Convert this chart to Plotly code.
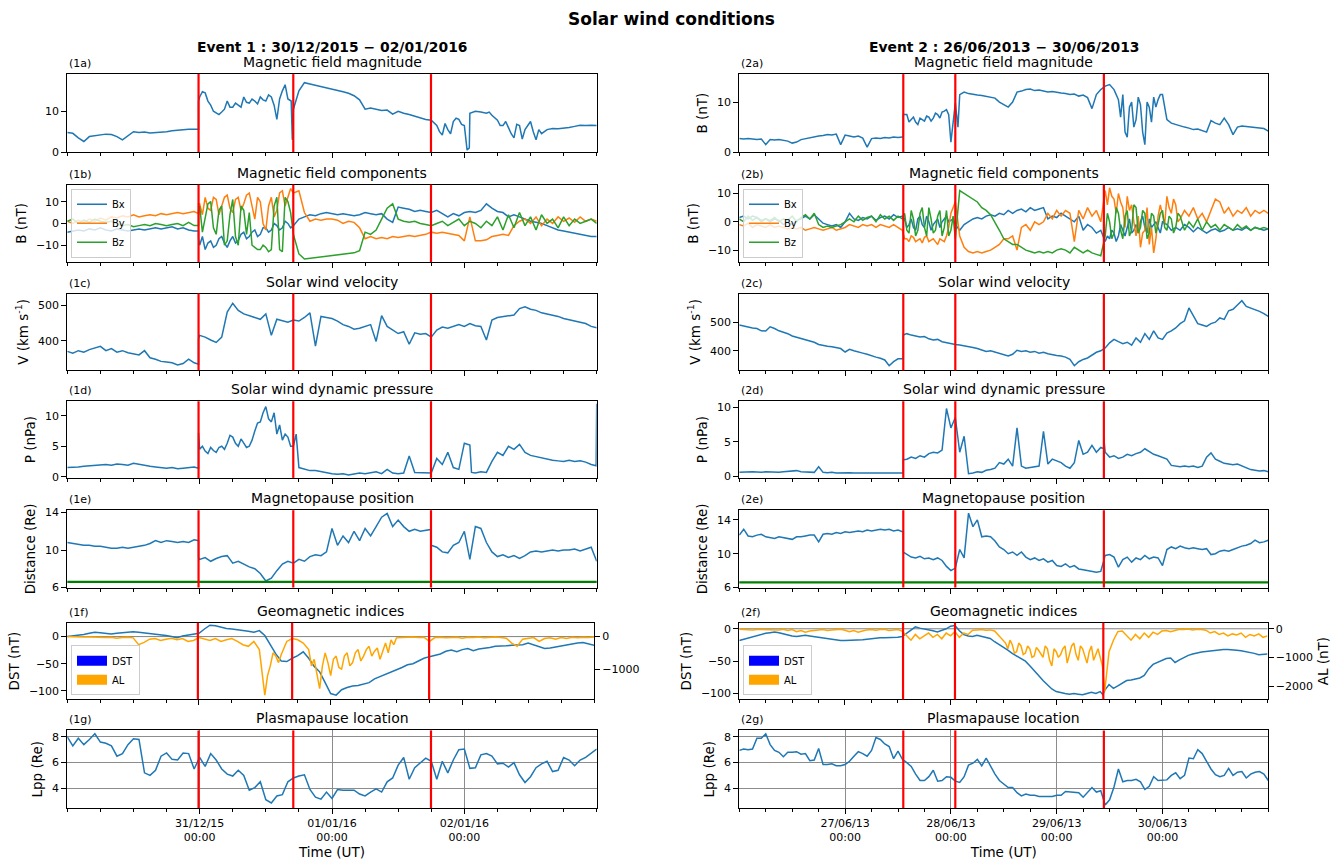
import pandas as pd
import plotly.graph_objects as go

W, H = 1343, 868

# ============================ DATA ============================
E1_START, E1_END = "2015-12-30 00:00", "2016-01-03 00:00"
E2_START, E2_END = "2013-06-26 00:00", "2013-07-01 00:00"

e1_tickvals = ["2015-12-31", "2016-01-01", "2016-01-02"]
e1_ticktext = ["31/12/15<br>00:00", "01/01/16<br>00:00", "02/01/16<br>00:00"]
e2_tickvals = ["2013-06-27", "2013-06-28", "2013-06-29", "2013-06-30"]
e2_ticktext = ["27/06/13<br>00:00", "28/06/13<br>00:00", "29/06/13<br>00:00", "30/06/13<br>00:00"]

# event boundaries (hours after start)
e1_boundaries_h = [23.8, 40.98, 65.95]
e2_boundaries_h = [37.2, 49.0, 82.7]

geosync_re = 6.6

# ---------- Event 1 (hourly values from 30/12/2015 00:00, plus extra (hour, value) samples) ----------
e1_B = [4.8, 4.6, 3.5, 2.6, 3.8, 4.0, 4.2, 4.4, 4.3, 3.8,
        3.0, 4.0, 5.0, 4.8, 4.9, 4.7, 4.8, 4.8, 5.0, 5.2,
        5.4, 5.5, 5.6, 5.5, 13.5, 14.5, 11.5, 9.5, 9.8, 12.5,
        11.0, 11.5, 13.5, 12.0, 12.5, 13.5, 12.5, 13.5, 8.0, 15.0,
        13.0, 10.5, 15.0, 17.0, 16.7, 16.4, 16.1, 15.8, 15.5, 15.1,
        14.8, 14.4, 13.8, 12.8, 10.5, 10.8, 10.5, 10.2, 10.3, 9.3,
        10.0, 9.5, 9.2, 8.8, 8.5, 8.0, 7.8, 6.5, 4.2, 5.5,
        7.5, 8.0, 6.5, 9.5, 10.0, 9.8, 9.5, 9.0, 7.8, 6.5,
        6.0, 3.5, 6.5, 5.5, 7.5, 3.0, 4.5, 5.5, 5.8, 5.7,
        5.8, 6.0, 6.3, 6.6, 6.5, 6.6, 6.5]
e1_B_extra = [(23.8, 5.6), (23.8, 12.5), (24.5, 14.8), (25.5, 12.5), (26.5, 10.0), (27.5, 9.2),
              (28.5, 10.5), (29.5, 11.0), (30.5, 12.0), (31.5, 11.0), (32.5, 12.2), (33.5, 13.0),
              (34.5, 11.8), (35.5, 12.8), (36.5, 14.0), (37.5, 11.5), (38.5, 13.0), (39.5, 16.5),
              (40.6, 12.5), (40.8, 3.0), (67.5, 5.0), (68.5, 7.0), (69.5, 4.5), (70.5, 8.3),
              (71.5, 6.8), (72.5, 0.5), (72.9, 1.0), (76.5, 9.8), (78.5, 6.5), (79.5, 7.5),
              (80.5, 4.5), (81.5, 6.8), (82.5, 3.2), (83.5, 6.5), (84.5, 5.0), (85.5, 5.5)]

e1_Bx = [-4, -3.5, -3, -3.5, -2.5, -3, -2, -3, -3.5, -2.5,
         -3, -3.5, -3, -2.5, -3, -2.5, -2, -2.5, -2, -1.5,
         -2.5, -2, -3, -3.5, -10, -12, -8, -10, -6, -11,
         -6, -8, -4, -6, -3, -5, -2, -3, -1, -2,
         0, -1, 2, 3, 4, 3.5, 4.5, 5, 4.5, 4,
         4.5, 4, 3.5, 4, 5, 4.5, 4, 4.5, 2, 0.5,
         7.5, 7, 6.5, 5.5, 6, 5.5, 5, 6, 4.5, 3,
         4.5, 3.5, 5, 5.5, 5, 6, 9, 7, 5.5, 5,
         3, 4, 3, 2, 1, 0.5, 0, -1, -2, -3,
         -3.5, -4, -4.5, -5, -5.5, -6, -6]
e1_Bx_extra = [(23.8, -3.5), (23.8, -7), (24.5, -6), (25.5, -9), (26.5, -11), (27.5, -7), (28.5, -9),
               (29.5, -8), (30.5, -9), (31.5, -5), (32.5, -7), (33.5, -4), (34.5, -6), (35.5, -2),
               (36.5, -4), (37.5, 0), (38.5, -3), (39.5, 1), (40.5, -2)]
e1_By = [1, 0, 1.5, 0.5, 2, 1, 2.5, 1.5, 3, 2.5,
         3.5, 3, 4, 3, 3.5, 4, 3.5, 4.5, 4, 4.5,
         5, 4.5, 5, 5.5, 9, 12, 6, 11, 8, 13,
         5, 12, 9, 14, 2, 10, -3, 12, 6, 15,
         12, 14, 15, 5, 1, 2, 1.5, 2, 2, 1.5,
         0, 1, 0.5, -2, -7, -6, -7, -6.5, -7, -6,
         -6.5, -6, -5.5, -6, -5.5, -5, -4, -4.5, -4, -4.5,
         -5, -5.5, -8, 3, -8, -8, -7.5, -6, -5.5, -5,
         -5.5, -1, 1, 2, 0, 3, -1, 2, 0, 3,
         1, 2.5, 0.5, 3, 1, 2, 1]
e1_By_extra = [(23.8, 4.5), (23.8, 9), (24.5, 4), (25.5, 7), (26.5, 12), (27.5, 4), (28.5, 12),
               (29.5, 7), (30.5, 11), (31.5, 6), (32.5, 13), (33.5, 8), (34.5, 12), (35.5, 0),
               (36.5, 8), (37.5, 3), (38.5, 14), (39.5, 8), (40.5, 16)]
e1_Bz = [1, 2, 0, 1.5, 0.5, 2, 1, 0.5, 1, 0,
         -1, -0.5, -1.5, -1, -0.5, -1, 0, -0.5, -1, -0.5,
         0, -1, 0.5, -1, 8, 3, 10, -5, 8, -8,
         11, -10, 6, 5, -11, -12, -11, -12, 12, -13,
         10, -5, -14, -16.3, -16, -15.7, -15.4, -15.1, -14.8, -14.5,
         -14.2, -13.9, -13.5, -12.5, -4, -5, -3, 2, 7, 9,
         2, 1, 0.5, 1, 0, -0.5, -1, 0, 1, -1,
         0.5, 2, -1, 1, 0, -2, 1, -1, 3, -3,
         4, -2, 5, -1, 3, -3, 4, 0, 2, -2,
         3, -1, 2, 0, 1, 2, 0]
e1_Bz_extra = [(23.8, -1), (23.8, 6), (24.5, -4), (25.5, 9), (26.5, -2), (27.5, 6), (28.5, -10),
               (29.5, 4), (30.5, -6), (31.5, 8), (32.5, -5), (33.5, -10), (34.5, -12), (35.5, -10),
               (36.5, -13), (37.5, 8), (38.5, -12), (39.5, 12), (40.5, 5)]

e1_V = [370, 365, 372, 368, 375, 380, 384, 372, 378, 368,
        372, 366, 362, 360, 372, 352, 348, 342, 340, 338,
        332, 336, 348, 338, 415, 410, 402, 395, 410, 480,
        505, 485, 475, 470, 465, 460, 475, 415, 460, 455,
        452, 458, 455, 465, 478, 385, 468, 465, 462, 455,
        445, 440, 432, 435, 440, 445, 398, 470, 440, 430,
        420, 425, 390, 422, 418, 420, 410, 430, 438, 435,
        440, 445, 440, 448, 442, 440, 402, 458, 465, 468,
        470, 472, 490, 495, 488, 485, 478, 475, 470, 468,
        462, 458, 455, 450, 448, 440, 436]
e1_V_extra = [(23.8, 334), (23.8, 405)]

e1_P = [1.5, 1.5, 1.6, 1.7, 1.8, 1.8, 1.9, 2.0, 1.9, 2.1,
        2.0, 1.9, 2.2, 2.0, 1.8, 1.7, 1.6, 1.5, 1.4, 1.5,
        1.3, 1.4, 1.5, 1.6, 4.5, 4.2, 4.8, 4.0, 5.0, 5.5,
        6.5, 5.0, 5.5, 5.0, 7.5, 9.0, 11.5, 9.0, 7.0, 6.0,
        6.5, 5.0, 1.5, 1.2, 1.0, 1.0, 0.8, 0.6, 0.5, 0.4,
        0.5, 0.3, 0.4, 0.6, 0.5, 0.7, 0.8, 0.5, 1.2, 0.6,
        0.5, 0.6, 3.4, 0.7, 0.7, 0.6, 0.6, 3.0, 2.0, 4.0,
        1.5, 1.2, 5.5, 5.2, 0.6, 0.8, 0.7, 2.5, 4.0, 3.5,
        5.0, 4.5, 5.3, 4.0, 3.5, 3.3, 3.0, 2.8, 2.7, 2.6,
        2.5, 2.7, 2.5, 2.6, 2.4, 2.0, 12.0]
e1_P_extra = [(23.8, 1.4), (23.8, 7.2), (24.5, 5.0), (25.5, 3.8), (26.5, 4.3), (27.5, 4.8), (28.5, 4.5),
              (29.5, 6.8), (30.5, 5.5), (31.5, 6.2), (32.5, 4.8), (33.5, 6.0), (34.5, 8.8), (35.5, 10.5),
              (36.5, 9.5), (37.5, 10.5), (38.5, 8.5), (39.5, 7.0), (40.5, 5.0), (41.5, 7.0), (73.3, 0.7),
              (95.9, 1.8)]

e1_R = [10.8, 10.7, 10.6, 10.5, 10.5, 10.4, 10.4, 10.3, 10.2, 10.2,
        10.3, 10.2, 10.3, 10.4, 10.5, 10.7, 11.0, 10.8, 11.0, 10.9,
        10.8, 10.9, 10.8, 11.1, 9.0, 9.2, 8.8, 9.1, 9.3, 9.4,
        8.6, 8.8, 8.5, 8.2, 8.0, 7.5, 6.7, 7.0, 7.8, 8.5,
        8.8, 8.6, 9.0, 8.8, 9.3, 9.5, 9.4, 9.8, 12.3, 10.5,
        11.5, 10.8, 12.0, 11.0, 12.3, 11.5, 12.5, 13.5, 13.9, 12.5,
        13.2, 12.5, 12.0, 12.2, 12.0, 12.1, 10.5, 10.3, 9.8, 9.7,
        10.5, 10.8, 12.0, 9.0, 12.5, 12.3, 10.8, 9.8, 9.3, 9.5,
        9.2, 9.4, 9.1, 9.4, 9.8, 9.9, 9.8, 9.9, 10.0, 9.9,
        10.0, 10.0, 10.1, 9.9, 10.1, 10.3, 8.8]
e1_R_extra = [(23.8, 11.0), (23.8, 9.2), (65.95, 12.2), (65.95, 9.4)]

e1_DST = [0, 1, 2, 4, 6, 8, 7, 6, 5, 6,
          7, 8, 9, 8, 7, 6, 5, 4, 2, 0,
          -2, 1, 3, 4, 6, 14, 21, 20, 17, 15,
          14, 13, 11, 10, 8, 11, 2, -15, -32, -45,
          -46, -40, -35, -28, -40, -55, -65, -85, -105, -108,
          -98, -94, -91, -90, -88, -85, -78, -74, -70, -66,
          -62, -57, -52, -50, -45, -40, -37, -35, -32, -27,
          -25, -28, -24, -22, -26, -23, -22, -20, -18, -18,
          -17, -16, -16, -15, -12, -15, -19, -22, -21, -19,
          -17, -15, -14, -12, -11, -13, -16]
e1_AL = [0, -10, -5, -15, -10, -20, -10, -30, -20, -50,
         -30, -20, -40, -250, -180, -80, -60, -120, -80, -50,
         -100, -60, -150, -120, -30, -80, -120, -60, -150, -100,
         -60, -150, -250, -300, -150, -400, -1800, -900, -600, -550,
         -150, -60, -100, -200, -400, -700, -1600, -500, -1200, -600,
         -1000, -500, -800, -400, -600, -300, -450, -700, -200, -100,
         -40, -30, -20, -10, -30, -20, -150, -30, -20, -40,
         -30, -20, -50, -20, -30, -10, -40, -20, -10, -30,
         -50, -200, -300, -80, -50, -30, -150, -60, -40, -80,
         -30, -60, -20, -40, -20, -30, -10]
e1_AL_extra = [(36.5, -1200), (37.5, -500), (38.5, -800), (44.5, -900), (45.5, -1100), (46.5, -900),
               (47.5, -800), (48.5, -700), (49.5, -950), (50.5, -600), (51.5, -900), (52.5, -500),
               (53.5, -750), (54.5, -400), (55.5, -600), (56.5, -350), (57.5, -450), (58.5, -500),
               (59.5, -250)]

e1_Lpp = [8.0, 7.3, 7.9, 7.4, 7.8, 8.25, 7.6, 7.5, 7.3, 6.5,
          6.7, 7.4, 7.85, 7.8, 5.2, 5.0, 5.4, 6.5, 6.75, 6.25,
          6.2, 6.75, 6.7, 5.5, 6.4, 5.7, 6.7, 6.2, 5.5, 5.1,
          4.95, 5.4, 5.0, 3.85, 4.05, 4.5, 3.1, 2.85, 3.4, 3.5,
          4.5, 4.8, 4.95, 5.05, 3.9, 3.3, 3.15, 3.7, 3.2, 3.9,
          3.85, 3.85, 3.85, 3.55, 3.4, 3.7, 3.95, 3.7, 4.5, 4.8,
          5.8, 6.4, 4.7, 5.6, 6.0, 6.35, 6.1, 4.7, 6.1, 5.2,
          6.2, 7.0, 7.05, 5.55, 5.6, 6.6, 6.7, 6.5, 5.9, 5.95,
          5.65, 6.0, 5.05, 4.45, 4.9, 5.6, 5.9, 6.1, 5.3, 5.4,
          6.4, 6.2, 5.75, 6.2, 6.4, 6.7, 7.05]

# ---------- Event 2 (hourly values from 26/06/2013 00:00, plus extra (hour, value) samples) ----------
e2_B = [2.7, 2.6, 2.7, 2.6, 2.5, 2.6, 1.5, 2.5, 2.4, 2.5,
        2.3, 2.2, 1.8, 2.0, 2.5, 2.7, 2.9, 3.0, 3.2, 3.3,
        3.5, 3.4, 3.6, 1.5, 3.4, 3.2, 3.0, 3.2, 2.8, 1.0,
        2.7, 2.8, 2.7, 2.9, 2.8, 3.0, 2.9, 3.0, 7.5, 6.5,
        6.0, 6.8, 6.2, 7.0, 6.8, 7.5, 8.0, 8.5, 2.0, 9.8,
        11.5, 12.0, 11.7, 11.5, 11.4, 11.3, 11.1, 11.0, 10.8, 10.0,
        9.5, 9.0, 10.0, 12.0, 12.2, 12.5, 12.6, 12.3, 12.4, 12.2,
        12.0, 12.1, 11.9, 11.8, 11.7, 11.5, 11.6, 11.2, 11.4, 10.9,
        8.7, 11.5, 12.5, 13.2, 13.5, 12.5, 10.5, 11.5, 3.0, 10.0,
        6.5, 9.5, 1.5, 9.0, 11.0, 10.5, 11.5, 6.5, 5.8, 5.5,
        5.2, 5.0, 4.8, 4.5, 4.6, 4.3, 4.0, 6.3, 5.8, 5.5,
        6.8, 5.5, 3.5, 5.0, 5.2, 5.1, 5.0, 4.9, 4.8, 4.7,
        4.2]
e2_B_extra = [(37.2, 3.0), (37.2, 7.5), (38.5, 6.0), (39.5, 7.0), (40.5, 5.5), (41.5, 6.5), (42.5, 7.2),
              (43.5, 6.2), (44.5, 7.8), (45.5, 6.8), (46.5, 8.2), (47.5, 7.5), (49.6, 5.0), (86.5, 7.0),
              (87.5, 4.0), (88.5, 9.0), (89.5, 5.0), (90.5, 11.0), (91.5, 4.0), (92.5, 10.0), (93.5, 6.0),
              (94.5, 9.0), (95.5, 11.5), (96.5, 8.5)]

e2_Bx = [1.5, 2, 1, 2, 1.5, 0.5, 1, 0, 1, 0.5,
         -1, 0, -1, 0.5, 1, 2, 1, 2.5, 1, -0.5,
         -1, -1.5, -1, -2, 0, 3, 1, 0.5, 1.5, 1,
         2, 0.5, 1.5, 2, 1, 2.5, 1.5, 2, -2, 1,
         -3, 2, -2, 0, -1, 1, 0, 2, 0.5, -1,
         -3, -1, 0, 1, 1.5, 1, 2, 2.5, 2, 3,
         2.5, 4, 3, 4, 4.5, 3.5, 5, 4, 4.5, 5,
         1, 2, 1.5, 3, 2, 1, 0, 2, -3, -1,
         -2, -4, -3, -7, -6, -4, -5, -3, -2, -4,
         -1, 0, -2, 1, -1, -2, 0, -1, -3, -2,
         -3, -1, -2, -3.5, -2, -3, -4, -3, -2.5, -3.5,
         -3, -2, -3, -2.5, -3, -2, -3, -2, -2.5, -3,
         -2.5]
e2_Bx_extra = [(37.5, 1), (38.5, -1), (39.5, -2), (40.5, 1), (41.5, -1), (42.5, 2), (43.5, -3),
               (44.5, 0), (45.5, -2), (46.5, 1), (47.5, 0), (48.5, 1), (83.5, -5), (84.5, -3),
               (85.5, -7), (86.5, -1), (87.5, -5), (88.5, 1), (89.5, -3), (90.5, -4), (91.5, 2),
               (92.5, -4), (93.5, -2), (94.5, 0), (95.5, -4)]
e2_By = [-1, -1.5, -0.5, -2, -1, -1.5, -2, -1, -2, -1.5,
         -2, -2.5, -2, -2.5, -2, -3, -2.5, -2, -2.5, -3,
         -2.5, -2, -3, -2.5, -2, -1, -1.5, -2, -1, -1.5,
         -1, -2, -1, -1.5, -2, -1, -2, -3, -6, -5,
         -7, -6, -5.5, -7, -6, -8, -6.5, -5, 3, 7,
         -5, -9, -10.5, -11, -10.5, -11, -10.5, -10, -9, -8,
         -6, -6, -5, -10, -2, -1, -3, 0, -1, 0,
         3, 1, 4, 2, 4, 3, -7, 4, 1, 5,
         2, 4, 0, 11, 12, 8, 10, 5, 9, 6,
         -5, -9, -3, -8, -11, 2, 2, 9, 3, 6,
         1, 4, 2, 5, 1, 3, 0, 4, 8, 7,
         3, 5, 2, 4, 3, 5, 2, 4, 3, 4,
         3]
e2_By_extra = [(37.5, -6), (38.5, -7), (39.5, -5.5), (40.5, -6.5), (41.5, -7.5), (42.5, -5), (43.5, -6.5),
               (44.5, -7), (45.5, -6), (46.5, -7), (47.5, -2), (48.5, 5), (83.5, 6), (84.5, 9), (85.5, 3),
               (86.5, 7), (87.5, -2), (88.5, 4), (89.5, 0), (90.5, 2), (91.5, -4), (92.5, 5), (93.5, -2),
               (94.5, -6), (95.5, 6), (96.5, -1), (97.5, 5), (98.5, 8), (99.5, 0)]
e2_Bz = [1, 0, 2, 0.5, 1.5, 0, 1, 0.5, 1.5, 0,
         1, 0.5, 2, 0, 1.5, 2.5, 1, 3, -1, -2,
         -1.5, -2, -1.5, -1, 0, 1, 0, 2, 0.5, 1.5,
         2, 0, 2.5, 1, 2, 0.5, 2, 1, -3, 4,
         -5, 3, -2, 5, -4, 2, -5, 4, -3, -6,
         11, 10, 9, 8, 7, 5, 4, 2.5, 0, -3,
         -6, -7, -8, -8, -9, -10, -10.5, -11, -10.5, -11,
         -10.5, -11, -10, -9.5, -10, -11, -9, -10, -11, -10,
         -11, -11.5, -12, -5, 0, -4, 3, -6, 4, -3,
         5, -2, 3, -4, 2, -1, 4, -3, 1, -2,
         2, -3, 0, -2, 1, -3, 0, -2, -1, -3,
         -1, -2, -3, -1, -2.5, -1.5, -3, -2, -2.5, -2,
         -2.5]
e2_Bz_extra = [(37.5, 3), (38.5, -4), (39.5, 1), (40.5, -3), (41.5, 5), (42.5, -5), (43.5, 1),
               (44.5, -3), (45.5, 4), (46.5, -2), (47.5, -5), (48.5, 2), (83.5, 3), (84.5, -6),
               (85.5, 5), (86.5, -3), (87.5, 2), (88.5, -5), (89.5, 6), (90.5, -4), (91.5, 4),
               (92.5, -6), (93.5, 3), (94.5, -4), (95.5, 3), (96.5, -2), (97.5, 2), (98.5, -4),
               (99.5, 3)]

e2_V = [490, 486, 483, 480, 478, 470, 469, 484, 478, 470,
        465, 460, 452, 448, 442, 438, 435, 430, 422, 418,
        416, 414, 412, 408, 396, 405, 400, 395, 392, 388,
        382, 378, 374, 368, 348, 362, 372, 370, 460, 455,
        452, 448, 450, 442, 438, 440, 432, 428, 425, 422,
        420, 418, 415, 412, 408, 402, 398, 400, 395, 390,
        386, 382, 388, 402, 398, 400, 395, 398, 392, 395,
        390, 386, 384, 382, 378, 370, 348, 362, 370, 375,
        385, 395, 400, 410, 428, 440, 432, 425, 430, 420,
        445, 430, 460, 440, 470, 445, 440, 462, 470, 480,
        495, 505, 550, 520, 495, 490, 485, 495, 500, 515,
        510, 540, 545, 560, 575, 555, 550, 545, 538, 530,
        520]
e2_V_extra = [(37.2, 372), (37.2, 455)]

e2_P = [0.6, 0.65, 0.6, 0.7, 0.65, 0.6, 0.7, 0.65, 0.7, 0.6,
        0.7, 0.75, 0.8, 0.85, 0.7, 0.65, 0.7, 0.6, 1.4, 0.6,
        0.55, 0.6, 0.5, 0.55, 0.5, 0.55, 0.5, 0.5, 0.45, 0.5,
        0.5, 0.45, 0.5, 0.45, 0.4, 0.5, 0.45, 0.5, 2.5, 2.8,
        2.6, 3.0, 2.8, 3.3, 3.5, 3.4, 3.8, 9.8, 7.0, 8.5,
        3.5, 5.8, 0.4, 0.5, 0.7, 0.6, 0.9, 1.0, 1.2, 2.0,
        1.8, 2.5, 1.5, 7.0, 1.5, 1.2, 1.3, 1.4, 1.5, 6.5,
        1.8, 2.5, 2.2, 2.0, 1.5, 1.2, 2.0, 5.2, 3.2, 3.5,
        4.5, 3.5, 4.2, 3.5, 2.8, 3.0, 2.6, 2.8, 3.2, 3.0,
        3.3, 3.5, 4.0, 3.6, 3.2, 3.0, 2.8, 2.5, 1.6, 1.5,
        1.4, 1.5, 1.4, 1.5, 1.3, 1.5, 2.8, 3.4, 2.5, 2.2,
        1.9, 1.8, 1.7, 1.8, 1.5, 1.2, 1.0, 0.9, 0.8, 0.85,
        0.7]
e2_P_extra = [(37.2, 0.5), (37.2, 2.4), (82.7, 4.0), (82.7, 5.5)]

e2_R = [12.2, 12.9, 12.1, 12.0, 12.2, 12.3, 12.0, 11.9, 11.8, 12.0,
        11.9, 11.8, 11.7, 12.0, 12.0, 12.1, 12.2, 12.2, 11.4, 12.3,
        12.4, 12.3, 12.5, 12.4, 12.6, 12.5, 12.6, 12.7, 12.6, 12.8,
        12.7, 12.8, 12.9, 12.8, 12.9, 12.7, 12.8, 12.6, 9.9, 9.6,
        9.5, 9.7, 9.4, 9.5, 9.3, 9.5, 9.2, 8.5, 8.0, 8.3,
        10.5, 9.5, 14.8, 13.2, 14.0, 12.0, 12.1, 12.0, 11.5, 10.8,
        10.5, 10.0, 10.2, 9.8, 10.2, 9.6, 9.3, 9.5, 9.2, 9.4,
        9.0, 9.2, 8.6, 8.5, 8.8, 8.4, 8.6, 8.2, 8.1, 8.0,
        7.9, 7.8, 7.9, 9.8, 9.9, 9.6, 8.4, 9.3, 9.6, 9.0,
        9.5, 9.3, 9.8, 9.4, 9.6, 9.5, 8.6, 10.5, 10.8, 10.6,
        10.9, 10.7, 10.6, 10.7, 10.6, 10.5, 10.6, 9.9, 10.0, 10.3,
        10.4, 10.3, 10.5, 10.7, 10.9, 11.0, 11.2, 11.6, 11.3, 11.4,
        11.6]
e2_R_extra = [(37.2, 12.6), (37.2, 10.2)]

e2_DST = [-18, -16, -14, -12, -10, -8, -7, -6, -5, -6,
          -8, -10, -11, -12, -11, -10, -11, -12, -14, -15,
          -16, -17, -17, -18, -18, -18, -18, -17, -17, -16,
          -15, -15, -14, -14, -14, -13, -13, -12, -7, -2,
          3, 1, 0, -2, -3, -5, -3, 0, 4, 5,
          -3, -9, -11, -12, -10, -12, -14, -15, -20, -24,
          -28, -33, -38, -42, -47, -50, -57, -64, -72, -80,
          -87, -93, -97, -99, -100, -101, -100, -101, -102, -100,
          -98, -100, -97, -95, -86, -92, -88, -84, -80, -79,
          -78, -76, -72, -62, -55, -52, -50, -46, -45, -52,
          -48, -44, -41, -39, -37, -36, -35, -34, -33, -33,
          -32, -32, -32, -33, -34, -35, -36, -38, -40, -40,
          -39]
e2_DST_extra = [(82.6, -102)]
e2_AL = [-20, -30, -15, -40, -25, -30, -20, -50, -30, -40,
         -20, -60, -30, -100, -60, -120, -80, -50, -40, -30,
         -60, -40, -30, -20, -50, -100, -60, -120, -80, -40,
         -30, -50, -30, -20, -60, -40, -30, -80, -250, -400,
         -200, -350, -250, -150, -300, -200, -350, -150, -250, -100,
         -300, -150, -200, -50, -40, -30, -50, -40, -80, -250,
         -450, -700, -550, -800, -600, -850, -700, -950, -750, -1000,
         -700, -1300, -800, -900, -600, -850, -500, -1100, -700, -1200,
         -600, -900, -1000, -2200, -800, -400, -100, -80, -250, -400,
         -200, -350, -150, -300, -120, -200, -80, -60, -100, -50,
         -20, -30, -10, -40, -20, -30, -50, -150, -100, -200,
         -150, -250, -180, -220, -150, -300, -200, -250, -180, -300,
         -250]
e2_AL_extra = [(60.5, -500), (61.5, -400), (62.5, -850), (63.5, -500), (64.5, -900), (65.5, -600),
               (66.5, -1000), (67.5, -650), (68.5, -900), (69.5, -600), (70.5, -1100), (71.5, -700),
               (72.5, -1000), (73.5, -700), (74.5, -1200), (75.5, -600), (76.5, -900), (77.5, -600),
               (78.5, -1000), (79.5, -800), (80.5, -1100), (81.5, -700), (82.5, -1300)]

e2_Lpp = [6.95, 7.05, 7.0, 7.05, 7.9, 7.9, 8.25, 7.4, 6.95, 6.8,
          6.45, 6.8, 6.8, 6.85, 6.65, 6.7, 6.15, 6.2, 7.1, 5.85,
          5.85, 5.9, 5.75, 5.75, 5.85, 6.1, 6.5, 6.85, 6.7, 6.5,
          6.95, 7.95, 7.8, 7.45, 7.25, 6.3, 6.9, 6.25, 6.0, 5.7,
          5.1, 4.6, 4.6, 4.9, 5.4, 4.55, 4.6, 4.9, 4.85, 4.55,
          4.45, 4.9, 5.8, 5.95, 6.25, 5.75, 6.35, 5.7, 5.1, 4.6,
          4.35, 4.05, 4.05, 3.65, 3.4, 3.55, 3.45, 3.45, 3.35, 3.35,
          3.35, 3.35, 3.45, 3.45, 3.75, 3.7, 3.7, 3.65, 3.3, 3.7,
          4.05, 3.7, 3.8, 2.7, 3.1, 4.1, 5.5, 4.5, 4.6, 4.6,
          4.7, 4.5, 3.9, 4.15, 4.9, 4.6, 4.65, 4.65, 5.0, 5.2,
          4.75, 5.0, 6.35, 6.3, 7.0, 6.7, 6.1, 5.5, 5.05, 4.9,
          5.0, 5.55, 5.0, 5.25, 5.3, 4.8, 5.1, 5.25, 5.3, 5.1,
          4.6]

panel_titles = ["Magnetic field magnitude", "Magnetic field components", "Solar wind velocity",
                "Solar wind dynamic pressure", "Magnetopause position", "Geomagnetic indices",
                "Plasmapause location"]
row_letters = ["a", "b", "c", "d", "e", "f", "g"]

# ============================ STYLE / LAYOUT ============================
BLUE, ORANGE, GREEN = "#1f77b4", "#ff7f0e", "#2ca02c"
FONT = "DejaVu Sans"
TICK_FS, LABEL_FS, TITLE_FS = 11, 13.5, 14
LW = 1.5
GRID = "#8c8c8c"

ROWS = [(71, 150), (183, 261.3), (293.3, 371), (402.3, 480), (512.7, 591), (626.7, 704.3), (735.7, 814.3)]

cols = {
    1: dict(x0=67.3, x1=596.7, fx1=594.0, start=E1_START, end=E1_END,
            tv=e1_tickvals, tt=e1_ticktext, bnd=e1_boundaries_h,
            yranges=[[0, 19.1], [-17.7, 17.8], [317, 532], [-0.2, 12.4], [6, 14.25], [-115.8, 25.5], [2.46, 8.51]],
            yticks=[[0, 10], [-10, 0, 10], [400, 500], [0, 5, 10], [6, 10, 14], [-100, -50, 0], [4, 6, 8]],
            ylabels=[None, "B (nT)", "V (km s<sup>-1</sup>)", "P (nPa)", "Distance (Re)", "DST (nT)", "Lpp (Re)"],
            al_range=[-1929, 424], al_ticks=[-1000, 0], al_label=None),
    2: dict(x0=739.3, x1=1268.3, fx1=1267.5, start=E2_START, end=E2_END,
            tv=e2_tickvals, tt=e2_ticktext, bnd=e2_boundaries_h,
            yranges=[[0, 15.6], [-14.2, 13.1], [332, 600], [-0.2, 10.85], [6, 15.15], [-109, 9.3], [2.46, 8.51]],
            yticks=[[0, 10], [-10, 0, 10], [400, 500], [0, 5, 10], [6, 10, 14], [-100, -50, 0], [4, 6, 8]],
            ylabels=["B (nT)", "B (nT)", "V (km s<sup>-1</sup>)", "P (nPa)", "Distance (Re)", "DST (nT)", "Lpp (Re)"],
            al_range=[-2465, 209], al_ticks=[-2000, -1000, 0], al_label="AL (nT)"),
}

series = {
    1: [[(e1_B, e1_B_extra, BLUE, None)],
        [(e1_Bx, e1_Bx_extra, BLUE, "Bx"), (e1_By, e1_By_extra, ORANGE, "By"), (e1_Bz, e1_Bz_extra, GREEN, "Bz")],
        [(e1_V, e1_V_extra, BLUE, None)],
        [(e1_P, e1_P_extra, BLUE, None)],
        [(e1_R, e1_R_extra, BLUE, None)],
        [(e1_DST, [], BLUE, None)],
        [(e1_Lpp, [], BLUE, None)]],
    2: [[(e2_B, e2_B_extra, BLUE, None)],
        [(e2_Bx, e2_Bx_extra, BLUE, "Bx"), (e2_By, e2_By_extra, ORANGE, "By"), (e2_Bz, e2_Bz_extra, GREEN, "Bz")],
        [(e2_V, e2_V_extra, BLUE, None)],
        [(e2_P, e2_P_extra, BLUE, None)],
        [(e2_R, e2_R_extra, BLUE, None)],
        [(e2_DST, e2_DST_extra, BLUE, None)],
        [(e2_Lpp, [], BLUE, None)]],
}
al_series = {1: (e1_AL, e1_AL_extra), 2: (e2_AL, e2_AL_extra)}


def aid(k):
    return "" if k == 1 else str(k)


def merge(hourly, extra):
    pts = [(float(i), float(v)) for i, v in enumerate(hourly)] + [(float(h), float(v)) for h, v in extra]
    pts.sort(key=lambda p: p[0])
    return [p[0] for p in pts], [p[1] for p in pts]


def to_times(start, hours):
    t0 = pd.Timestamp(start)
    return [t0 + pd.Timedelta(hours=h) for h in hours]


fig = go.Figure()
layout = dict(width=W, height=H, autosize=False, margin=dict(l=0, r=0, t=0, b=0, pad=0),
              paper_bgcolor="white", plot_bgcolor="white", hovermode=False,
              font=dict(family=FONT, size=TICK_FS, color="black"))
shapes, annotations = [], []

legend_style = dict(bgcolor="rgba(255,255,255,0.8)", bordercolor="#cccccc", borderwidth=1,
                    font=dict(family=FONT, size=10, color="black"), xanchor="left", yanchor="bottom",
                    tracegroupgap=0)
leg_b = {1: "legend", 2: "legend2"}
leg_f = {1: "legend3", 2: "legend4"}

for c in (1, 2):
    col = cols[c]
    minor_vals = list(pd.date_range(col["start"], col["end"], freq="6h"))
    bnd_times = to_times(col["start"], col["bnd"])
    for r in range(7):
        k = (c - 1) * 7 + r + 1
        top, bot = ROWS[r]
        x1 = col["fx1"] if r == 5 else col["x1"]
        xd = [col["x0"] / W, x1 / W]
        yd = [1 - bot / H, 1 - top / H]
        xa = dict(domain=xd, anchor="y" + aid(k), type="date", range=[col["start"], col["end"]],
                  showline=True, linecolor="black", linewidth=1, mirror=True,
                  ticks="outside", ticklen=5, tickwidth=1, tickcolor="black",
                  tickmode="array", tickvals=col["tv"], ticktext=col["tt"],
                  showticklabels=(r == 6), tickfont=dict(size=TICK_FS),
                  showgrid=(r == 6), gridcolor=GRID, gridwidth=1, zeroline=False,
                  minor=dict(ticks="outside", ticklen=3, tickwidth=1, tickcolor="black",
                             tickmode="array", tickvals=minor_vals, showgrid=False),
                  fixedrange=True)
        if r == 6:
            xa["title"] = dict(text="Time (UT)", font=dict(size=LABEL_FS), standoff=2)
        ya = dict(domain=yd, anchor="x" + aid(k), range=col["yranges"][r],
                  showline=True, linecolor="black", linewidth=1, mirror=True,
                  ticks="outside", ticklen=5, tickwidth=1, tickcolor="black",
                  tickmode="array", tickvals=col["yticks"][r], tickfont=dict(size=TICK_FS),
                  showgrid=(r == 6), gridcolor=GRID, gridwidth=1, zeroline=False, fixedrange=True)
        if col["ylabels"][r]:
            ya["title"] = dict(text=col["ylabels"][r], font=dict(size=LABEL_FS), standoff=6)
        layout["xaxis" + aid(k)] = xa
        layout["yaxis" + aid(k)] = ya

        # data traces
        for hourly, extra, color, name in series[c][r]:
            hrs, vals = merge(hourly, extra)
            tr = dict(x=to_times(col["start"], hrs), y=vals, mode="lines",
                      line=dict(color=color, width=LW), xaxis="x" + aid(k), yaxis="y" + aid(k),
                      showlegend=name is not None)
            if name is not None:
                tr["name"] = name
                tr["legend"] = leg_b[c]
            fig.add_trace(go.Scatter(**tr))

        if r == 5:
            al_id = str(14 + c)
            layout["yaxis" + al_id] = dict(overlaying="y" + aid(k), anchor="x" + aid(k), side="right",
                                           range=col["al_range"], tickmode="array", tickvals=col["al_ticks"],
                                           ticks="outside", ticklen=5, tickwidth=1, tickcolor="black",
                                           tickfont=dict(size=TICK_FS), showgrid=False, zeroline=False,
                                           showline=False, fixedrange=True)
            if col["al_label"]:
                layout["yaxis" + al_id]["title"] = dict(text=col["al_label"], font=dict(size=LABEL_FS), standoff=6)
            al_vals, al_extra = al_series[c]
            hrs, vals = merge(al_vals, al_extra)
            fig.add_trace(go.Scatter(x=to_times(col["start"], hrs), y=vals, mode="lines",
                                     line=dict(color="orange", width=LW), xaxis="x" + aid(k),
                                     yaxis="y" + al_id, showlegend=False))
            # legend patches
            for nm, clr in (("DST", "blue"), ("AL", "orange")):
                fig.add_trace(go.Scatter(x=[None], y=[None], mode="lines", line=dict(color=clr, width=10),
                                         name=nm, legend=leg_f[c], xaxis="x" + aid(k), yaxis="y" + aid(k)))
            shapes.append(dict(type="line", xref="x" + aid(k) + " domain", x0=0, x1=1,
                               yref="y" + aid(k), y0=0, y1=0, line=dict(color="#808080", width=1),
                               layer="below"))
        if r == 4:
            shapes.append(dict(type="line", xref="x" + aid(k) + " domain", x0=0, x1=1,
                               yref="y" + aid(k), y0=geosync_re, y1=geosync_re,
                               line=dict(color="#008000", width=2.2), layer="above"))
        for bt in bnd_times:
            shapes.append(dict(type="line", xref="x" + aid(k), x0=bt, x1=bt,
                               yref="y" + aid(k) + " domain", y0=0, y1=1,
                               line=dict(color="red", width=2.2), layer="above"))

        # titles
        ty = 1 - (top - 2) / H
        annotations.append(dict(text=panel_titles[r], x=(xd[0] + xd[1]) / 2, y=ty, xref="paper", yref="paper",
                                xanchor="center", yanchor="bottom", showarrow=False,
                                font=dict(size=TITLE_FS)))
        annotations.append(dict(text="(%d%s)" % (c, row_letters[r]), x=xd[0], y=ty, xref="paper", yref="paper",
                                xanchor="left", yanchor="bottom", showarrow=False, font=dict(size=11)))

    annotations.append(dict(text="<b>Event %d : %s</b>" % (c, "30/12/2015 − 02/01/2016" if c == 1 else "26/06/2013 − 30/06/2013"),
                            x=(col["x0"] + col["x1"]) / 2 / W, y=1 - 44 / H, xref="paper", yref="paper",
                            xanchor="center", yanchor="middle", showarrow=False, font=dict(size=13.9)))

annotations.append(dict(text="<b>Solar wind conditions</b>", x=0.5, y=1 - 15 / H, xref="paper", yref="paper",
                        xanchor="center", yanchor="middle", showarrow=False, font=dict(size=17)))

layout["legend"] = dict(legend_style, x=71 / W, y=1 - 257 / H)
layout["legend2"] = dict(legend_style, x=743 / W, y=1 - 257 / H)
layout["legend3"] = dict(legend_style, x=71 / W, y=1 - 700 / H)
layout["legend4"] = dict(legend_style, x=743 / W, y=1 - 700 / H)
layout["shapes"] = shapes
layout["annotations"] = annotations
fig.update_layout(**layout)

fig.write_html("out.html", config={"displayModeBar": False},
               post_script="document.body.style.margin='0px';")
